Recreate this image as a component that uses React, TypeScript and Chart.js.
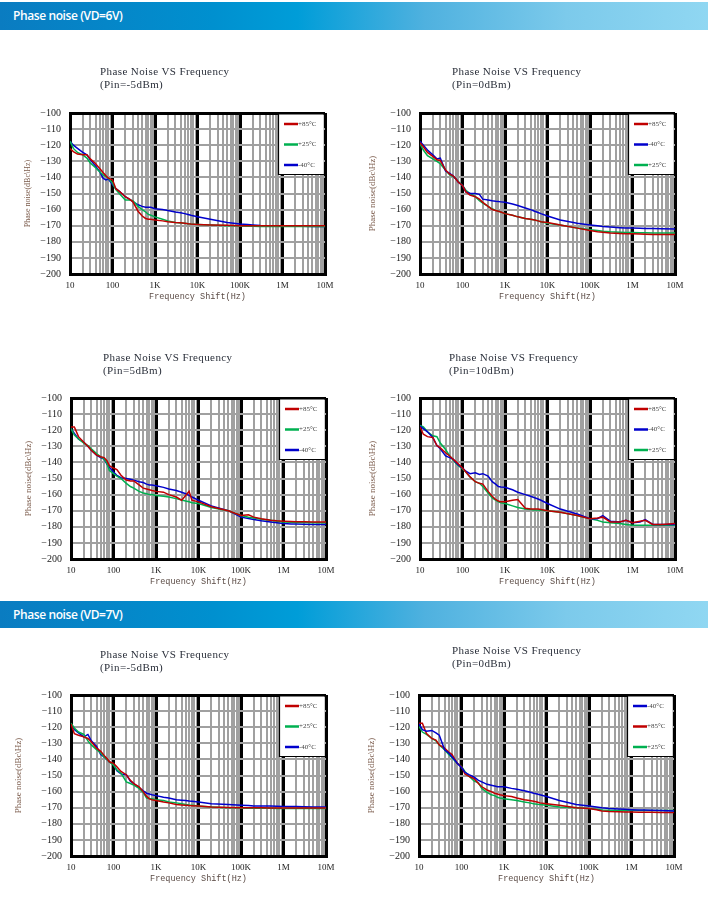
import React, { useEffect, useRef } from 'react';
import { Chart, registerables } from 'chart.js';
Chart.register(...registerables);

// ---------- data ----------
const FREQ = [10, 12, 15, 20, 25, 30, 40, 50, 60, 70, 80, 100, 120, 150, 200, 250, 300, 400, 500, 600, 700, 800,
  1e3, 1.5e3, 2e3, 3e3, 4e3, 5e3, 6e3, 7e3, 1e4, 2e4, 5e4, 1e5, 1.5e5, 2e5, 3e5, 5e5, 7e5, 1e6, 1.5e6, 2e6, 3e6, 5e6, 1e7];

const X_TICK_LABELS = ['10', '100', '1K', '10K', '100K', '1M', '10M'];

// VD=6V, Pin=-5dBm
const VD6_M5_P85 = [-122, -124, -125.5, -126, -126, -128.5, -131.5, -134.5, -137, -139, -140.5, -141.5, -147, -149, -152, -153.5, -155, -161, -164, -165.5, -166, -166, -166.5, -167, -167.5, -168, -168.2, -168.5, -168.8, -169, -169.2, -169.5, -169.7, -170, -170, -170, -170, -170, -170, -170, -170, -170, -170, -170, -170];
const VD6_M5_P25 = [-117.5, -122, -124.5, -126, -128, -131, -134, -136.5, -138.5, -139.5, -140.5, -143.5, -147.5, -150.5, -154, -154, -154.5, -158, -160, -161.5, -163, -163.5, -164.5, -166, -167, -168, -168.3, -168.5, -168.8, -169, -169.2, -169.5, -170, -170.2, -170.3, -170.4, -170.5, -170.5, -170.5, -170.5, -170.5, -170.5, -170.5, -170.5, -170.5];
const VD6_M5_M40 = [-117.5, -120, -122, -124.5, -126, -129, -133, -136.5, -140.5, -141.5, -141, -144.5, -147, -149, -152, -153.5, -155, -157, -158, -158.5, -158.5, -158.5, -159.5, -160, -160.5, -161.5, -162, -162.5, -163, -163.5, -164.5, -166, -168, -169, -169.3, -169.5, -169.8, -170, -170, -170.2, -170.3, -170.3, -170.4, -170.5, -170.5];

// VD=6V, Pin=0dBm
const VD6_0_P85 = [-118.5, -121, -124.5, -127, -129, -129.5, -135.5, -138, -139, -141, -143, -145, -149, -151, -152, -153.5, -155.5, -158, -160, -160.5, -161, -161.5, -162.5, -163.5, -164.5, -165.5, -166, -166.5, -167, -167.5, -168, -169.5, -171.5, -173, -173.7, -174, -174.5, -174.8, -175, -175, -175.2, -175.3, -175.4, -175.5, -175.5];
const VD6_0_M40 = [-117.5, -120, -123, -126, -128.5, -128, -136, -137.5, -139, -141, -143, -145, -149, -150, -150, -150.5, -153.5, -154, -154.5, -154.8, -155, -155.2, -155.5, -156.5, -157.5, -159, -160, -161, -161.8, -162.5, -164, -166.5, -168.5, -169.5, -170, -170.5, -170.8, -171.2, -171.4, -171.5, -171.6, -171.7, -171.8, -171.9, -172];
const VD6_0_P25 = [-119, -123, -126.5, -128.5, -130, -131.5, -135.5, -138.5, -139.5, -141, -142.5, -145, -148, -150, -152, -154.5, -156, -158, -159.5, -160.5, -161, -161.5, -162.5, -163.5, -164.5, -165.5, -166, -166.5, -167, -167.5, -168.5, -169.5, -171.5, -172.5, -173, -173.5, -173.8, -174, -174.2, -174.3, -174.4, -174.4, -174.5, -174.5, -174.5];

// VD=6V, Pin=5dBm
const VD6_5_P85 = [-118, -118, -124, -127.5, -130, -132.5, -135.5, -136.5, -137, -139, -142, -143.5, -144.5, -148, -151, -151.5, -151.5, -154, -156, -156.5, -157, -157.5, -158, -158.5, -160, -161.5, -163.5, -160.5, -158, -163.5, -164.5, -167.5, -170, -173, -172.5, -174, -175, -176, -176.3, -176.5, -176.7, -176.8, -176.9, -177, -177];
const VD6_5_P25 = [-119, -123, -125.5, -128, -129.5, -131.5, -134.5, -136.5, -138, -140.5, -145, -147, -148.5, -150, -153, -155, -156, -158, -159, -159.5, -160, -160, -160.5, -161, -161.5, -162.5, -163.3, -164, -164.5, -165, -165.5, -168, -170, -173, -174, -174.5, -175.3, -176, -176.5, -177, -177.2, -177.3, -177.4, -177.5, -177.5];
const VD6_5_M40 = [-119, -122, -125.5, -127.5, -130, -132.5, -135.5, -137, -138, -141, -143, -146, -148, -149.5, -150, -150.5, -151, -152, -152.5, -153.5, -154, -154, -154.5, -155.5, -156.5, -157.5, -158.5, -159.5, -160.5, -161.5, -163.5, -167, -170, -174, -174.8, -175.5, -176.3, -177, -177.5, -178, -178.2, -178.3, -178.4, -178.5, -178.5];

// VD=6V, Pin=10dBm
const VD6_10_P85 = [-118, -122.5, -124, -124.5, -129.5, -131, -134, -136, -138, -139.5, -141, -143.5, -146, -149, -152, -153, -153.5, -158, -161, -163, -164, -164.5, -164.5, -163.5, -163, -168.5, -169, -169, -169, -169.2, -170, -171, -173, -175, -174.5, -174, -177, -177, -176, -177.5, -176.5, -176, -178.5, -178.5, -178];
const VD6_10_M40 = [-117.5, -119, -121, -124.5, -129.5, -131.5, -136, -137, -138, -140, -141.5, -143.5, -145.5, -147, -146.5, -147.5, -147, -148.5, -152, -153.5, -155, -155.3, -155.5, -157, -158.5, -160, -161, -162, -162.7, -163.5, -165.5, -169, -172, -175, -175, -173, -176.5, -177, -176, -177.5, -177, -175.5, -178.5, -178.5, -178.5];
const VD6_10_P25 = [-117, -118, -121, -123.5, -124, -128, -132, -136, -138.5, -140.5, -142, -144, -146, -149, -152, -153, -155, -159, -162, -163.5, -164.5, -165, -165.5, -167, -168, -169, -169.3, -169.5, -169.5, -169.7, -170, -171, -173, -175, -176, -177, -177.5, -178, -178.5, -179, -179, -179, -179, -179, -179];

// VD=7V, Pin=-5dBm
const VD7_M5_P85 = [-118, -124, -125, -126, -127, -129, -133, -135, -137.5, -139.5, -141.5, -142.5, -144.5, -147.5, -149.5, -153, -155, -157, -160, -163, -164.5, -165, -165.5, -166.5, -167, -168, -168.3, -168.5, -168.7, -168.8, -169, -169.5, -169.8, -170, -170, -170.1, -170.1, -170.2, -170.2, -170.2, -170.2, -170.2, -170.2, -170.2, -170.2];
const VD7_M5_P25 = [-117.5, -120.5, -123, -124.5, -128.5, -131, -134, -136, -138.5, -140, -141.5, -143.5, -146.5, -148.5, -154, -155, -156, -158, -160.5, -164, -164.3, -164.5, -165, -165.5, -166.5, -167, -167.5, -168, -168.3, -168.5, -169, -169.5, -170, -170.2, -170.3, -170.3, -170.4, -170.4, -170.5, -170.5, -170.5, -170.5, -170.5, -170.5, -170.5];
const VD7_M5_M40 = [-118, -121.5, -123.5, -126, -124.5, -128.5, -132, -137, -138.5, -140, -141.5, -143, -147, -149, -149.5, -153.5, -155, -157.5, -159.5, -161, -161.5, -162, -162.5, -163.5, -164, -165, -165.3, -165.5, -165.8, -166, -166.5, -167.5, -168, -168.5, -168.7, -169, -169, -169, -169.1, -169.2, -169.3, -169.3, -169.4, -169.5, -169.5];

// VD=7V, Pin=0dBm
const VD7_0_M40 = [-118, -121.5, -122.5, -122, -123.5, -125, -134, -136, -138.5, -140.5, -142.5, -145, -148, -149.5, -151, -153, -154, -155.5, -156, -156.5, -157, -157, -157, -158, -158.5, -159.5, -160.3, -161, -161.5, -162, -163, -165.5, -168, -169, -169.5, -170, -170.5, -170.8, -171, -171.2, -171.4, -171.5, -171.6, -171.8, -172];
const VD7_0_P85 = [-117.5, -117.5, -124, -127, -128, -131, -133, -135.5, -137, -140, -142.5, -144.5, -149, -150.5, -152, -155, -157, -159, -160, -161, -161.5, -162, -162.5, -163, -164, -165, -165.5, -166, -166.5, -167, -167.5, -168.5, -170, -170.5, -171.3, -172, -172.3, -172.5, -172.6, -172.7, -172.8, -172.8, -172.9, -173, -173];
const VD7_0_P25 = [-119.5, -123, -124.5, -127, -128.5, -131, -134, -137, -139, -141, -142.5, -144.5, -147.5, -150.5, -153.5, -154.5, -158, -160.5, -162, -162.5, -163.5, -164, -164.5, -165, -165.5, -166.5, -167, -167.5, -167.8, -168, -168.5, -169.5, -170, -170.5, -171, -171.5, -171.6, -171.7, -171.7, -171.8, -171.8, -171.8, -171.8, -171.8, -171.8];

const RED = '#c00000';
const GREEN = '#00b050';
const BLUE = '#0000cc';
const L85 = '+85°C';
const L25 = '+25°C';
const L40 = '-40°C';

type Series = { label: string; color: string; values: number[] };
type Spec = {
  title: string; sub: string;
  plotLeft: number; plotTop: number;
  titleLeft: number; titleTop: number;
  yTitlePad: number; yTitleSize: number;
  series: Series[];
};

const TITLE = 'Phase Noise VS Frequency';

const SPECS: Spec[] = [
  { title: TITLE, sub: '(Pin=-5dBm)', plotLeft: 70, plotTop: 113, titleLeft: 100, titleTop: 71, yTitlePad: 13, yTitleSize: 8,
    series: [{ label: L85, color: RED, values: VD6_M5_P85 }, { label: L25, color: GREEN, values: VD6_M5_P25 }, { label: L40, color: BLUE, values: VD6_M5_M40 }] },
  { title: TITLE, sub: '(Pin=0dBm)', plotLeft: 420, plotTop: 113, titleLeft: 452, titleTop: 71, yTitlePad: 7, yTitleSize: 9,
    series: [{ label: L85, color: RED, values: VD6_0_P85 }, { label: L40, color: BLUE, values: VD6_0_M40 }, { label: L25, color: GREEN, values: VD6_0_P25 }] },
  { title: TITLE, sub: '(Pin=5dBm)', plotLeft: 71, plotTop: 398, titleLeft: 103, titleTop: 357, yTitlePad: 12, yTitleSize: 9,
    series: [{ label: L85, color: RED, values: VD6_5_P85 }, { label: L25, color: GREEN, values: VD6_5_P25 }, { label: L40, color: BLUE, values: VD6_5_M40 }] },
  { title: TITLE, sub: '(Pin=10dBm)', plotLeft: 420, plotTop: 398, titleLeft: 449, titleTop: 357, yTitlePad: 7, yTitleSize: 9,
    series: [{ label: L85, color: RED, values: VD6_10_P85 }, { label: L40, color: BLUE, values: VD6_10_M40 }, { label: L25, color: GREEN, values: VD6_10_P25 }] },
  { title: TITLE, sub: '(Pin=-5dBm)', plotLeft: 71, plotTop: 695, titleLeft: 100, titleTop: 654, yTitlePad: 2, yTitleSize: 9,
    series: [{ label: L85, color: RED, values: VD7_M5_P85 }, { label: L25, color: GREEN, values: VD7_M5_P25 }, { label: L40, color: BLUE, values: VD7_M5_M40 }] },
  { title: TITLE, sub: '(Pin=0dBm)', plotLeft: 419, plotTop: 695, titleLeft: 452, titleTop: 650, yTitlePad: 7, yTitleSize: 9,
    series: [{ label: L40, color: BLUE, values: VD7_0_M40 }, { label: L85, color: RED, values: VD7_0_P85 }, { label: L25, color: GREEN, values: VD7_0_P25 }] },
];

// ---------- helpers ----------
const X_TICKS: number[] = (() => {
  const t: number[] = [];
  for (let e = 1; e <= 6; e++) for (let m = 1; m <= 9; m++) t.push(m * Math.pow(10, e));
  t.push(1e7);
  return t;
})();
const isDecade = (v: number) => {
  const l = Math.log10(v);
  return Math.abs(l - Math.round(l)) < 1e-9;
};

const CW = 340;
const CH = 250;
const PAD_L = 60;
const PAD_T = 53;
const PLOT_W = 255;
const PLOT_H = 161;
const X_H = 28;
const GRID_GRAY = '#a0a0a0';

const boxLegend = {
  id: 'boxLegend',
  afterDraw(chart: any) {
    const { ctx, chartArea } = chart;
    const right = chartArea.right;
    const top = chartArea.top;
    const w = 47;
    const h = 62;
    ctx.save();
    ctx.fillStyle = '#ffffff';
    ctx.fillRect(right - w, top + 1.5, w - 1.5, h - 1.5);
    ctx.strokeStyle = '#000';
    ctx.lineWidth = 1.2;
    ctx.beginPath();
    ctx.moveTo(right - w + 0.5, top);
    ctx.lineTo(right - w + 0.5, top + h - 0.5);
    ctx.lineTo(right, top + h - 0.5);
    ctx.stroke();
    chart.data.datasets.forEach((ds: any, i: number) => {
      const y = top + 11 + i * 20.5;
      ctx.strokeStyle = ds.borderColor;
      ctx.lineWidth = 2.5;
      ctx.beginPath();
      ctx.moveTo(right - 41, y);
      ctx.lineTo(right - 27, y);
      ctx.stroke();
      ctx.fillStyle = '#444';
      ctx.font = '7px "Liberation Serif"';
      ctx.textBaseline = 'middle';
      ctx.textAlign = 'left';
      ctx.fillText(ds.label, right - 27, y);
    });
    ctx.restore();
  },
};

function PNChart({ spec }: { spec: Spec }) {
  const ref = useRef<HTMLCanvasElement>(null);
  useEffect(() => {
    if (!ref.current) return;
    const chart = new Chart(ref.current, {
      type: 'line',
      data: {
        datasets: spec.series.map((s) => ({
          label: s.label,
          data: FREQ.map((f, i) => ({ x: f, y: s.values[i] })),
          borderColor: s.color,
          backgroundColor: s.color,
          borderWidth: 1.5,
          pointRadius: 0,
          fill: false,
          tension: 0,
        })),
      },
      options: {
        responsive: false,
        animation: false,
        devicePixelRatio: 1,
        layout: { padding: { left: 0, top: PAD_T, right: CW - PAD_L - PLOT_W, bottom: CH - PAD_T - PLOT_H - X_H } },
        plugins: { legend: { display: false }, tooltip: { enabled: false } },
        scales: {
          x: {
            type: 'logarithmic',
            min: 10,
            max: 1e7,
            afterBuildTicks: (s: any) => { s.ticks = X_TICKS.map((v) => ({ value: v })); },
            afterFit: (s: any) => { s.height = X_H; },
            grid: {
              color: (c: any) => (c.tick && isDecade(c.tick.value) ? '#000' : GRID_GRAY),
              lineWidth: (c: any) => (c.tick && isDecade(c.tick.value) ? 3 : 2),
              drawTicks: false,
            },
            border: { display: true, color: '#000', width: 3 },
            ticks: {
              autoSkip: false,
              minRotation: 0,
              maxRotation: 0,
              padding: 6,
              color: '#1a1a1a',
              font: { family: 'Liberation Serif', size: 9 },
              callback: (v: any) => {
                const n = Number(v);
                return isDecade(n) ? X_TICK_LABELS[Math.round(Math.log10(n)) - 1] : '';
              },
            },
            title: {
              display: true,
              text: 'Frequency Shift(Hz)',
              color: '#5a4a44',
              font: { family: 'Liberation Mono', size: 8.5 },
              padding: { top: 0, bottom: 0 },
            },
          },
          y: {
            type: 'linear',
            min: -200,
            max: -100,
            afterFit: (s: any) => { s.width = PAD_L; },
            grid: {
              color: (c: any) => (c.tick && (c.tick.value === -100 || c.tick.value === -200) ? '#000' : GRID_GRAY),
              lineWidth: (c: any) => (c.tick && (c.tick.value === -100 || c.tick.value === -200) ? 3 : 2),
              drawTicks: false,
            },
            border: { display: true, color: '#000', width: 3 },
            ticks: {
              stepSize: 10,
              padding: 9,
              color: '#1a1a1a',
              font: { family: 'Liberation Serif', size: 10 },
              callback: (v: any) => String(v).replace('-', '\u2212'),
            },
            title: {
              display: true,
              text: 'Phase noise(dBc\\Hz)',
              color: '#7a5a4a',
              font: { family: 'Liberation Serif', size: spec.yTitleSize },
              padding: { top: spec.yTitlePad, bottom: 0 },
            },
          },
        },
      },
      plugins: [boxLegend],
    } as any);
    return () => chart.destroy();
  }, [spec]);

  return (
    <>
      <canvas
        ref={ref}
        width={CW}
        height={CH}
        style={{ position: 'absolute', left: spec.plotLeft - PAD_L, top: spec.plotTop - PAD_T, width: CW, height: CH }}
      />
      <div
        style={{
          position: 'absolute',
          left: spec.titleLeft,
          top: spec.titleTop - 6.5,
          fontFamily: '"Liberation Serif", serif',
          fontSize: 11,
          letterSpacing: '0.4px',
          lineHeight: '13px',
          color: '#2a2f3a',
          whiteSpace: 'pre',
        }}
      >
        <div>{spec.title}</div>
        <div>{spec.sub}</div>
      </div>
    </>
  );
}

function Header({ top, height, text }: { top: number; height: number; text: string }) {
  return (
    <div
      style={{
        position: 'absolute',
        left: 0,
        top,
        width: 708,
        height,
        background: 'linear-gradient(to right, #0a7cc1 0%, #0090cf 30%, #009dd8 42%, #4fb1df 60%, #7ccaeb 80%, #90d7f2 100%)',
        color: '#fff',
        fontFamily: '"Open Sans", sans-serif',
        fontWeight: 600,
        fontSize: 12,
        letterSpacing: '-0.4px',
        lineHeight: `${height}px`,
        paddingLeft: 13,
        boxSizing: 'border-box',
      }}
    >
      {text}
    </div>
  );
}

export default function App() {
  return (
    <div style={{ position: 'absolute', left: 0, top: 0, width: 708, height: 905, background: '#fff', overflow: 'hidden' }}>
      <Header top={2} height={28} text="Phase noise (VD=6V)" />
      <Header top={601} height={27} text="Phase noise (VD=7V)" />
      {SPECS.map((s, i) => (
        <PNChart key={i} spec={s} />
      ))}
    </div>
  );
}
